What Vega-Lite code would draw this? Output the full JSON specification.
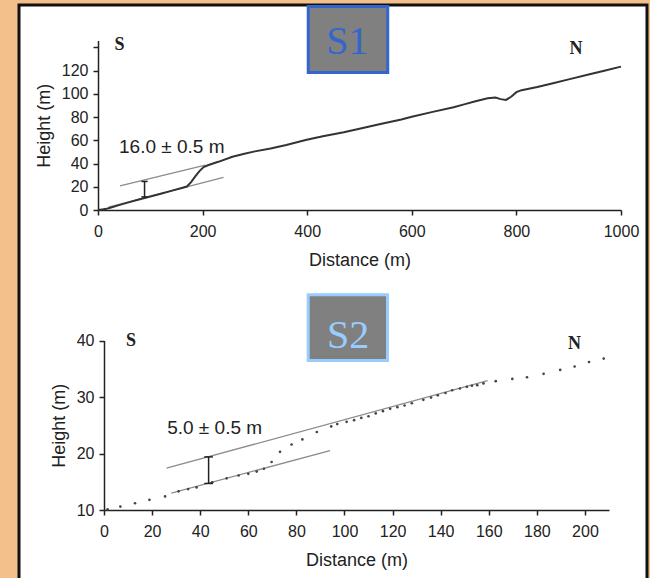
{
  "$schema": "https://vega.github.io/schema/vega-lite/v6.json",
  "width": 628,
  "height": 575,
  "autosize": {"type": "none"},
  "padding": {"left": 19, "top": 5, "right": 3, "bottom": 0},
  "background": "#f3c08c",
  "config": {
    "view": {"fill": "white", "stroke": "#111111", "strokeWidth": 3},
    "axis": {
      "domainColor": "#222222", "domainWidth": 1.5,
      "tickColor": "#222222", "tickWidth": 1.5, "tickSize": 5,
      "labelFont": "Liberation Sans", "labelFontSize": 16, "labelColor": "#222222",
      "labelPadding": 5, "labelFlush": false, "labelOverlap": false,
      "titleFont": "Liberation Sans", "titleFontSize": 18, "titleFontWeight": "normal",
      "titleColor": "#222222", "titlePadding": 8, "grid": false
    },
    "axisX": {"labelPadding": 8, "titlePadding": 12}
  },
  "datasets": {
    "s1profile": [
      {"d": 0, "h": 0}, {"d": 8, "h": 0.5}, {"d": 16, "h": 1}, {"d": 25, "h": 2.2},
      {"d": 40, "h": 4.2}, {"d": 60, "h": 6.8}, {"d": 80, "h": 9.3}, {"d": 100, "h": 11.6},
      {"d": 120, "h": 14}, {"d": 140, "h": 16.5}, {"d": 160, "h": 19}, {"d": 170, "h": 20.2},
      {"d": 178, "h": 24}, {"d": 186, "h": 29}, {"d": 194, "h": 33.5}, {"d": 202, "h": 37},
      {"d": 210, "h": 38.5}, {"d": 230, "h": 41.5}, {"d": 257, "h": 45.9}, {"d": 280, "h": 48.5},
      {"d": 300, "h": 50.5}, {"d": 330, "h": 53}, {"d": 360, "h": 56}, {"d": 397, "h": 60.3},
      {"d": 430, "h": 63.5}, {"d": 470, "h": 67}, {"d": 500, "h": 70}, {"d": 540, "h": 74},
      {"d": 580, "h": 78}, {"d": 600, "h": 80.4}, {"d": 640, "h": 84.5}, {"d": 680, "h": 88.5},
      {"d": 700, "h": 91}, {"d": 720, "h": 93.5}, {"d": 745, "h": 96.3}, {"d": 760, "h": 96.8},
      {"d": 770, "h": 95.5}, {"d": 780, "h": 94.8}, {"d": 790, "h": 97.5}, {"d": 800, "h": 101.5},
      {"d": 810, "h": 103.2}, {"d": 840, "h": 106}, {"d": 870, "h": 109.2}, {"d": 900, "h": 112.5},
      {"d": 940, "h": 117}, {"d": 970, "h": 120.2}, {"d": 1000, "h": 123.5}
    ],
    "s1fit": [
      {"line": "upper", "d": 42, "h": 20.7}, {"line": "upper", "d": 205, "h": 38.6},
      {"line": "lower", "d": 20, "h": 2.4}, {"line": "lower", "d": 240, "h": 28.2}
    ],
    "s1bar": [{"d": 89, "lo": 11.3, "hi": 24.6}],
    "s1caps": [{"d1": 83, "d2": 95, "h": 11.3}, {"d1": 83, "d2": 95, "h": 24.6}],
    "s1box": [{"d1": 402, "d2": 554, "h1": 118.4, "h2": 175.3}],
    "s1boxlabel": [{"d": 476.7, "h": 145, "label": "S1"}],
    "s1dir": [{"d": 41, "h": 142, "label": "S"}, {"d": 914, "h": 138.4, "label": "N"}],
    "s1note": [{"d": 141, "h": 54.3, "label": "16.0 ± 0.5 m"}],
    "s2points": [
      {"d": 1.5, "h": 10.1}, {"d": 6.8, "h": 10.6}, {"d": 12.9, "h": 11.2}, {"d": 18.9, "h": 11.8},
      {"d": 25.4, "h": 12.4}, {"d": 31, "h": 13.3}, {"d": 35, "h": 13.7}, {"d": 38.5, "h": 14.0},
      {"d": 45, "h": 14.9}, {"d": 51, "h": 15.6}, {"d": 56, "h": 16.1}, {"d": 60, "h": 16.4},
      {"d": 63.5, "h": 16.8}, {"d": 66.5, "h": 17.3}, {"d": 69.7, "h": 18.5}, {"d": 73.2, "h": 20.3},
      {"d": 78, "h": 21.6}, {"d": 82.5, "h": 22.5}, {"d": 88.5, "h": 23.8}, {"d": 94.5, "h": 24.8},
      {"d": 97, "h": 25.2}, {"d": 100.9, "h": 25.6}, {"d": 104, "h": 25.9}, {"d": 107, "h": 26.3},
      {"d": 110, "h": 26.6}, {"d": 113, "h": 27.1}, {"d": 116, "h": 27.5}, {"d": 119, "h": 27.9},
      {"d": 122, "h": 28.2}, {"d": 125, "h": 28.5}, {"d": 128, "h": 28.9}, {"d": 132.8, "h": 29.5},
      {"d": 136, "h": 29.9}, {"d": 138.8, "h": 30.3}, {"d": 142, "h": 30.7}, {"d": 144.8, "h": 31.2},
      {"d": 148, "h": 31.5}, {"d": 150.9, "h": 31.8}, {"d": 153, "h": 32.0}, {"d": 155.2, "h": 32.1},
      {"d": 157.8, "h": 32.4}, {"d": 162.9, "h": 32.8}, {"d": 169.8, "h": 33.2}, {"d": 175.9, "h": 33.5},
      {"d": 182.8, "h": 34.1}, {"d": 189.7, "h": 34.8}, {"d": 195.7, "h": 35.4}, {"d": 201.7, "h": 36.2},
      {"d": 207.8, "h": 36.8}
    ],
    "s2fit": [
      {"line": "upper", "d": 26, "h": 17.4}, {"line": "upper", "d": 159.5, "h": 32.9},
      {"line": "lower", "d": 28, "h": 13}, {"line": "lower", "d": 94, "h": 20.5}
    ],
    "s2bar": [{"d": 43.5, "lo": 14.7, "hi": 19.4}],
    "s2caps": [{"d1": 41.7, "d2": 45.3, "h": 14.7}, {"d1": 41.7, "d2": 45.3, "h": 19.4}],
    "s2box": [{"d1": 84.9, "d2": 117.9, "h1": 36.46, "h2": 48.09}],
    "s2boxlabel": [{"d": 101.5, "h": 40.85, "label": "S2"}],
    "s2dir": [{"d": 11.2, "h": 40, "label": "S"}, {"d": 195.7, "h": 39.4, "label": "N"}],
    "s2note": [{"d": 46, "h": 24.6, "label": "5.0 ± 0.5 m"}]
  },
  "layer": [
    {
      "layer": [
        {
          "data": {"name": "s1fit"},
          "mark": {"type": "line", "color": "#8c8c8c", "strokeWidth": 1.3},
          "encoding": {
            "x": {"field": "d", "type": "quantitative",
              "scale": {"domain": [0, 1000], "range": [79, 602], "nice": false, "zero": false},
              "axis": {"orient": "bottom", "offset": -370, "values": [0, 200, 400, 600, 800, 1000], "format": "d", "title": "Distance (m)"}},
            "y": {"field": "h", "type": "quantitative",
              "scale": {"domain": [0, 146], "range": [205, 35.5], "nice": false, "zero": false},
              "axis": {"orient": "left", "offset": -79, "values": [0, 20, 40, 60, 80, 100, 120, 140],
                "labelExpr": "datum.value == 140 ? '' : datum.label", "title": "Height (m)"}},
            "detail": {"field": "line"}
          }
        },
        {
          "data": {"name": "s1profile"},
          "mark": {"type": "line", "color": "#333333", "strokeWidth": 2},
          "encoding": {
            "x": {"field": "d", "type": "quantitative"},
            "y": {"field": "h", "type": "quantitative"}
          }
        },
        {
          "data": {"name": "s1bar"},
          "mark": {"type": "rule", "color": "#222222", "strokeWidth": 1.5},
          "encoding": {
            "x": {"field": "d", "type": "quantitative"},
            "y": {"field": "lo", "type": "quantitative"},
            "y2": {"field": "hi"}
          }
        },
        {
          "data": {"name": "s1caps"},
          "mark": {"type": "rule", "color": "#222222", "strokeWidth": 1.5},
          "encoding": {
            "x": {"field": "d1", "type": "quantitative"},
            "x2": {"field": "d2"},
            "y": {"field": "h", "type": "quantitative"}
          }
        },
        {
          "data": {"name": "s1box"},
          "mark": {"type": "rect", "fill": "#808080", "stroke": "#3366cc", "strokeWidth": 3},
          "encoding": {
            "x": {"field": "d1", "type": "quantitative"},
            "x2": {"field": "d2"},
            "y": {"field": "h1", "type": "quantitative"},
            "y2": {"field": "h2"}
          }
        },
        {
          "data": {"name": "s1boxlabel"},
          "mark": {"type": "text", "font": "Liberation Serif", "fontSize": 40, "color": "#3366cc", "align": "center", "baseline": "middle"},
          "encoding": {
            "x": {"field": "d", "type": "quantitative"},
            "y": {"field": "h", "type": "quantitative"},
            "text": {"field": "label"}
          }
        },
        {
          "data": {"name": "s1dir"},
          "mark": {"type": "text", "font": "Liberation Serif", "fontSize": 18, "fontWeight": "bold", "color": "#222222", "align": "center", "baseline": "middle"},
          "encoding": {
            "x": {"field": "d", "type": "quantitative"},
            "y": {"field": "h", "type": "quantitative"},
            "text": {"field": "label"}
          }
        },
        {
          "data": {"name": "s1note"},
          "mark": {"type": "text", "font": "Liberation Sans", "fontSize": 19, "color": "#222222", "align": "center", "baseline": "middle"},
          "encoding": {
            "x": {"field": "d", "type": "quantitative"},
            "y": {"field": "h", "type": "quantitative"},
            "text": {"field": "label"}
          }
        }
      ]
    },
    {
      "layer": [
        {
          "data": {"name": "s2fit"},
          "mark": {"type": "line", "color": "#8c8c8c", "strokeWidth": 1.3},
          "encoding": {
            "x": {"field": "d", "type": "quantitative",
              "scale": {"domain": [0, 210], "range": [85, 590], "nice": false, "zero": false},
              "axis": {"orient": "bottom", "offset": -70, "values": [0, 20, 40, 60, 80, 100, 120, 140, 160, 180, 200], "title": "Distance (m)"}},
            "y": {"field": "h", "type": "quantitative",
              "scale": {"domain": [10, 40], "range": [505, 335.5], "nice": false, "zero": false},
              "axis": {"orient": "left", "offset": -85, "values": [10, 20, 30, 40], "title": "Height (m)"}},
            "detail": {"field": "line"}
          }
        },
        {
          "data": {"name": "s2points"},
          "mark": {"type": "circle", "color": "#444444", "size": 7, "opacity": 1},
          "encoding": {
            "x": {"field": "d", "type": "quantitative"},
            "y": {"field": "h", "type": "quantitative"}
          }
        },
        {
          "data": {"name": "s2bar"},
          "mark": {"type": "rule", "color": "#222222", "strokeWidth": 1.5},
          "encoding": {
            "x": {"field": "d", "type": "quantitative"},
            "y": {"field": "lo", "type": "quantitative"},
            "y2": {"field": "hi"}
          }
        },
        {
          "data": {"name": "s2caps"},
          "mark": {"type": "rule", "color": "#222222", "strokeWidth": 1.5},
          "encoding": {
            "x": {"field": "d1", "type": "quantitative"},
            "x2": {"field": "d2"},
            "y": {"field": "h", "type": "quantitative"}
          }
        },
        {
          "data": {"name": "s2box"},
          "mark": {"type": "rect", "fill": "#808080", "stroke": "#99ccff", "strokeWidth": 3},
          "encoding": {
            "x": {"field": "d1", "type": "quantitative"},
            "x2": {"field": "d2"},
            "y": {"field": "h1", "type": "quantitative"},
            "y2": {"field": "h2"}
          }
        },
        {
          "data": {"name": "s2boxlabel"},
          "mark": {"type": "text", "font": "Liberation Serif", "fontSize": 40, "color": "#99ccff", "align": "center", "baseline": "middle"},
          "encoding": {
            "x": {"field": "d", "type": "quantitative"},
            "y": {"field": "h", "type": "quantitative"},
            "text": {"field": "label"}
          }
        },
        {
          "data": {"name": "s2dir"},
          "mark": {"type": "text", "font": "Liberation Serif", "fontSize": 18, "fontWeight": "bold", "color": "#222222", "align": "center", "baseline": "middle"},
          "encoding": {
            "x": {"field": "d", "type": "quantitative"},
            "y": {"field": "h", "type": "quantitative"},
            "text": {"field": "label"}
          }
        },
        {
          "data": {"name": "s2note"},
          "mark": {"type": "text", "font": "Liberation Sans", "fontSize": 19, "color": "#222222", "align": "center", "baseline": "middle"},
          "encoding": {
            "x": {"field": "d", "type": "quantitative"},
            "y": {"field": "h", "type": "quantitative"},
            "text": {"field": "label"}
          }
        }
      ]
    }
  ],
  "resolve": {
    "scale": {"x": "independent", "y": "independent"},
    "axis": {"x": "independent", "y": "independent"}
  }
}
